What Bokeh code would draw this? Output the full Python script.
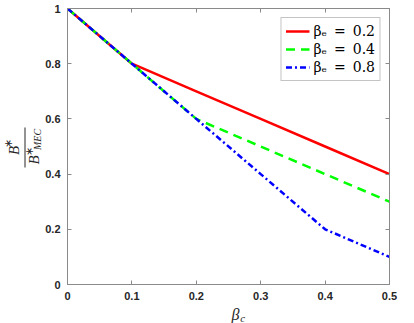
from bokeh.plotting import figure
from bokeh.models import (FixedTicker, LinearAxis, Legend, LegendItem, Range1d)
from bokeh.layouts import row, column
from bokeh.core.properties import value
from bokeh.embed import file_html
from bokeh.resources import INLINE
import math

# ---- data ----
beta_c = [0, 0.1, 0.2, 0.3, 0.4, 0.5]
ratio_be02 = [1.0, 0.8, 0.7, 0.6, 0.5, 0.4]
ratio_be04 = [1.0, 0.8, 0.6, 0.5, 0.4, 0.3]
ratio_be08 = [1.0, 0.8, 0.6, 0.4, 0.2, 0.1]
series_labels = ["\u03b2\u2091\u2002=\u20020.2", "\u03b2\u2091\u2002=\u20020.4", "\u03b2\u2091\u2002=\u20020.8"]
x_ticks = [0, 0.1, 0.2, 0.3, 0.4, 0.5]
x_tick_labels = ["0", "0.1", "0.2", "0.3", "0.4", "0.5"]
y_ticks = [0, 0.2, 0.4, 0.6, 0.8, 1.0]
y_tick_labels = ["0", "0.2", "0.4", "0.6", "0.8", "1"]

AX = "#8a8a8a"
TXT = "#262626"

TOTAL_H = 323
LEFT_W = 42
MAIN_W, MAIN_H = 364, 304
BOT_H = TOTAL_H - MAIN_H

# ---------------- main plot ----------------
p = figure(width=MAIN_W, height=MAIN_H, output_backend="svg", toolbar_location=None,
           x_range=Range1d(0, 0.5), y_range=Range1d(0, 1),
           min_border_left=24, min_border_right=17, min_border_top=8,
           min_border_bottom=20,
           x_axis_location=None, y_axis_location=None)
p.grid.visible = False
p.outline_line_color = AX
p.background_fill_color = "white"
p.border_fill_color = "white"

def style_axis(ax, ticks, labels, show_labels=True):
    ax.ticker = FixedTicker(ticks=ticks)
    ax.major_tick_in = 4
    ax.major_tick_out = 0
    ax.minor_tick_line_color = None
    ax.axis_line_color = AX
    ax.major_tick_line_color = AX
    if show_labels:
        ax.major_label_overrides = {t: l for t, l in zip(ticks, labels)}
        ax.major_label_text_font = "Liberation Sans"
        ax.major_label_text_font_style = "bold"
        ax.major_label_text_font_size = "11px"
        ax.major_label_text_color = TXT
        ax.major_label_standoff = 7
    else:
        ax.major_label_overrides = {t: "" for t in ticks}
        ax.major_label_standoff = 0

xb = LinearAxis(); style_axis(xb, x_ticks, x_tick_labels)
yl = LinearAxis(); style_axis(yl, y_ticks, y_tick_labels)
xt = LinearAxis(); style_axis(xt, x_ticks, x_tick_labels, False)
yr = LinearAxis(); style_axis(yr, y_ticks, y_tick_labels, False)
p.add_layout(xb, "below")
p.add_layout(yl, "left")
p.add_layout(xt, "above")
p.add_layout(yr, "right")

r1 = p.line(beta_c, ratio_be02, line_color="#ff0000", line_width=2.5)
r2 = p.line(beta_c, ratio_be04, line_color="#00ff00", line_width=2.5, line_dash="9 6")
r3 = p.line(beta_c, ratio_be08, line_color="#0000ff", line_width=2.5, line_dash="6 3 2 3")

legend = Legend(items=[LegendItem(label=series_labels[0], renderers=[r1]),
                       LegendItem(label=series_labels[1], renderers=[r2]),
                       LegendItem(label=series_labels[2], renderers=[r3])],
                location="top_right", margin=9, padding=4, spacing=0,
                glyph_width=24, glyph_height=18, label_height=18, label_standoff=4,
                label_text_font="DejaVu Serif", label_text_font_size="14px",
                label_text_color="black", border_line_color=AX,
                background_fill_color="white")
p.add_layout(legend, "center")

# ---------------- label panels ----------------
def blank_panel(w, h):
    f = figure(width=w, height=h, output_backend="svg", toolbar_location=None,
               x_range=Range1d(0, w), y_range=Range1d(0, h), min_border=0,
               x_axis_location=None, y_axis_location=None)
    f.grid.visible = False
    f.outline_line_color = None
    f.background_fill_color = "white"
    f.border_fill_color = "white"
    return f

SERIF = "Liberation Serif"
def txt(f, xs, ys, s, size, angle=0.0, style="italic"):
    f.text(x=[xs], y=[ys], text=[s], angle=angle,
           text_font=value(SERIF), text_font_style=style,
           text_font_size=value(size), text_color=TXT,
           text_align="center", text_baseline="middle")

# y label: B* / B*_MEC (rotated), page coords -> panel coords (y flipped)
lf = blank_panel(LEFT_W, TOTAL_H)
ang = math.pi / 2
def fy(py):
    return TOTAL_H - py
txt(lf, 13, fy(150), "B", "15px", ang)
txt(lf, 7.5, fy(143), "\u2217", "11px", ang, "normal")
lf.segment(x0=[24.5], y0=[fy(127)], x1=[24.5], y1=[fy(167)], line_color=TXT, line_width=1)
txt(lf, 33, fy(159.5), "B", "15px", ang)
txt(lf, 28.5, fy(150.5), "\u2217", "11px", ang, "normal")
txt(lf, 37, fy(139), "MEC", "10px", ang)

# x label: beta_c
bf = blank_panel(MAIN_W, BOT_H)
txt(bf, 232 - LEFT_W, BOT_H - (314 - MAIN_H), "\u03b2", "16px")
txt(bf, 240 - LEFT_W, BOT_H - (317 - MAIN_H), "c", "11px")

layout = row(lf, column(p, bf, spacing=0), spacing=0)
open("out.html", "w").write(file_html(layout, INLINE))
